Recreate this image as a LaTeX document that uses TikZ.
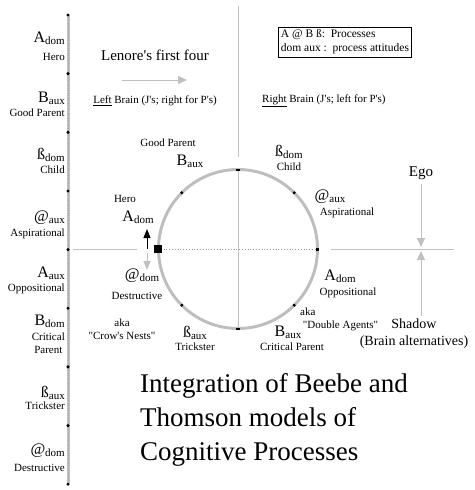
\documentclass[tikz,border=0pt]{standalone}
\usepackage{fontspec}
\setmainfont[Ligatures=TeXOff]{Liberation Serif}
\usetikzlibrary{arrows.meta}
\definecolor{lgr}{RGB}{192,192,192}
\definecolor{dgr}{RGB}{150,150,150}
\definecolor{mgr}{RGB}{165,165,165}
\newcommand{\proc}[2]{{\fontsize{16}{16}\selectfont #1}\raisebox{-0.35ex}{\fontsize{11}{11}\selectfont #2}}
\tikzset{
    lbl/.style={inner sep=0pt,font=\fontsize{11}{13}\selectfont},
    graybar/.style={lgr,line width=3pt},
    grayarrow/.style={lgr,line width=1pt,-{Triangle[length=9pt,width=8pt]}},
}

\begin{document}
\begin{tikzpicture}[x=1pt,y=-1pt]
    \useasboundingbox (0,0) rectangle (474,490);
    \coordinate (C) at (238,249);
    \foreach \i in {0,...,8}
        \coordinate (L\i) at (68,{15+58.65*\i});
    %
    % left scale
    \draw[graybar] (L0) -- (L8);
    \draw[mgr,line width=0.5pt,dotted] (L0) -- (L8);
    \foreach \i in {0,...,8}
        \fill (L\i) circle (1.7);
    %
    \foreach \p/\s/\y/\n/\yy [count=\k] in {A/dom/38/Hero/57, B/aux/98/Good Parent/113,
        ß/dom/155/Child/170, @/aux/218/Aspirational/234, A/aux/273/Oppositional/289,
        B/dom/321/{Critical\\Parent}/343, ß/aux/393/Trickster/406, @/dom/451/Destructive/468}
    {
        \node[lbl,anchor=east] (lp\k) at (65,\y) {\proc{\p}{\s}};
        \node[lbl,anchor=east,align=center] (ln\k) at (65,\yy) {\n};
    }
    %
    % axes
    \coordinate (H1) at (73,249);
    \coordinate (H2) at (137,249);
    \coordinate (H3) at (331,249);
    \coordinate (H4) at (454,249);
    \coordinate (V1) at (238,6);
    \coordinate (V2) at (238,157);
    \coordinate (V3) at (238,170);
    \coordinate (V4) at (238,329);
    \coordinate (W) at (158,249);
    \coordinate (E) at (317,249);
    \draw[lgr,line width=1pt] (H1) -- (H2);
    \draw[lgr,line width=1pt] (H3) -- (H4);
    \draw[lgr,line width=1pt] (V1) -- (V2);
    \draw[lgr,line width=1pt] (V3) -- (V4);
    \draw[dgr,line width=0.8pt,dotted] (W) -- (E);
    %
    % circle
    \draw[graybar] (C) circle (79.5);
    \draw[mgr,line width=0.5pt,dotted] (C) circle (79.5);
    \foreach \a in {45,135,225,315}
        \fill (C) ++(\a:79.5) circle (1.7);
    \fill (V3) ++(-2,-1) rectangle ++(4,2);
    \fill (V4) ++(-2,-1) rectangle ++(4,2);
    \fill (E) ++(-1.5,-1.5) rectangle ++(3,3);
    \fill (W) ++(-4,-4) rectangle ++(8,8);
    %
    % arrows
    \coordinate (up1) at (147,249);
    \coordinate (up2) at (147,229);
    \coordinate (dn1) at (147,253);
    \coordinate (dn2) at (147,270);
    \draw[line width=1pt,-{Triangle[length=9pt,width=7pt]}] (up1) -- (up2);
    \draw[grayarrow,-{Triangle[length=9pt,width=7pt]}] (dn1) -- (dn2);
    %
    \node[lbl,font=\fontsize{15}{15}\selectfont] (lenore) at (155,55) {Lenore's first four};
    \coordinate (la1) at (122,80);
    \coordinate (la2) at (187,80);
    \draw[grayarrow] (la1) -- (la2);
    \node[lbl] (left) at (155,101) {\underline{Left} Brain (J's; right for P's)};
    \node[lbl,anchor=west] (right) at (262,101) {\underline{Right} Brain (J's; left for P's)};
    %
    \node[draw,line width=0.8pt,align=left,inner sep=2.5pt,font=\fontsize{11.5}{14}\selectfont,anchor=north west] (key) at (278,27)
        {A @ B ß:\ \ Processes\\dom aux :\ \ process attitudes};
    %
    % ego and shadow
    \node[lbl,font=\fontsize{15}{15}\selectfont] (ego) at (421,173) {Ego};
    \node[lbl,font=\fontsize{14}{17}\selectfont,align=center] (shadow) at (414,334) {Shadow\\(Brain alternatives)};
    \coordinate (eg1) at (421,184);
    \coordinate (eg2) at (421,247);
    \coordinate (sh1) at (421,316);
    \coordinate (sh2) at (421,251);
    \draw[grayarrow] (eg1) -- (eg2);
    \draw[grayarrow] (sh1) -- (sh2);
    %
    % labels round the circle
    \node[lbl] (gp) at (168,143) {Good Parent};
    \node[lbl] (bx1) at (190,161) {\proc{B}{aux}};
    \node[lbl] (hero) at (125,199) {Hero};
    \node[lbl] (ad1) at (138,217) {\proc{A}{dom}};
    \node[lbl] (at1) at (142,276) {\proc{@}{dom}};
    \node[lbl] (des) at (137,296) {Destructive};
    \node[lbl,align=center] (crow) at (122,329) {aka\\"Crow's Nests"};
    \node[lbl] (sd1) at (289,152) {\proc{ß}{dom}};
    \node[lbl] (child) at (289,167) {Child};
    \node[lbl] (at2) at (330,197) {\proc{@}{aux}};
    \node[lbl] (asp) at (347,213) {Aspirational};
    \node[lbl] (ad2) at (340,276) {\proc{A}{dom}};
    \node[lbl] (opp) at (348,293) {Oppositional};
    \node[lbl,align=left,anchor=west] (dbl) at (300,319) {aka\\\ "Double Agents"};
    \node[lbl] (sx1) at (195,333) {\proc{ß}{aux}};
    \node[lbl] (trick) at (195,347) {Trickster};
    \node[lbl] (bx2) at (288,332) {\proc{B}{aux}};
    \node[lbl] (crit) at (292,347) {Critical Parent};
    %
    \node[lbl,align=left,anchor=north west,font=\fontsize{27}{34}\selectfont] (title) at (140,373)
        {Integration of Beebe and\\Thomson models of\\Cognitive Processes};
\end{tikzpicture}
\end{document}
